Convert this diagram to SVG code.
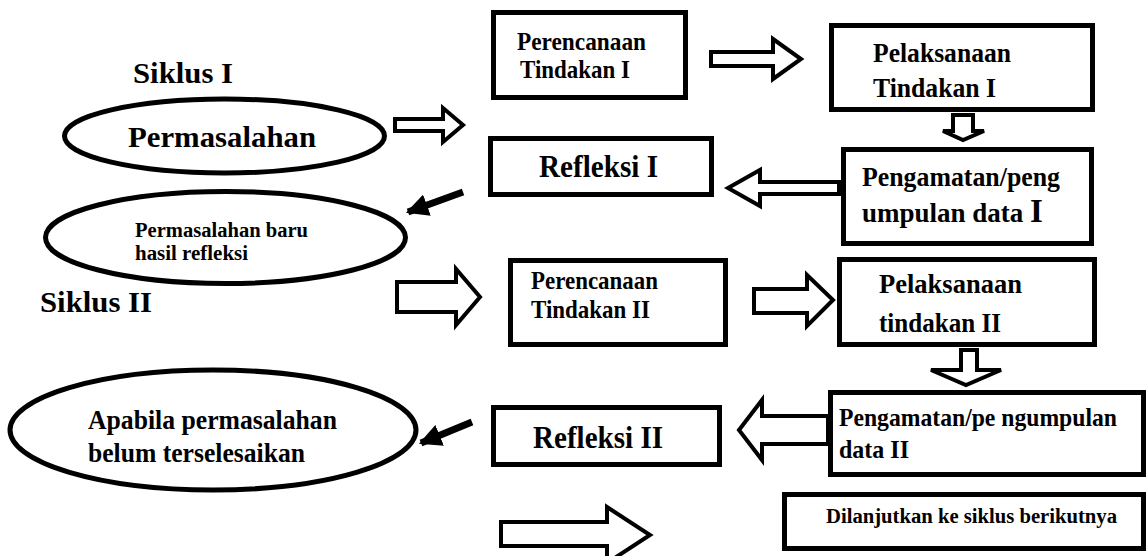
<svg xmlns="http://www.w3.org/2000/svg" width="1146" height="556" viewBox="0 0 1146 556">
<style>
.bg{fill:#fff}
.box{fill:#fff;stroke:#000;stroke-width:5}
.ell{fill:#fff;stroke:#000;stroke-width:5}
.barrow{fill:#fff;stroke:#000;stroke-width:4;stroke-linejoin:miter}
.line{stroke:#000;stroke-width:7;fill:none}
.t{font-family:"Liberation Serif","Times New Roman",serif;font-weight:bold;fill:#000}
</style>
<defs>
<marker id="ah" viewBox="0 0 10 10" refX="9" refY="5" markerWidth="3.2" markerHeight="3.2" orient="auto" markerUnits="strokeWidth">
<path d="M0,0 L10,5 L0,10 Z" fill="#000"/>
</marker>
</defs>
<rect class="bg" x="0" y="0" width="1146" height="556"/>

<text class="t" x="133" y="83" font-size="29" textLength="100" lengthAdjust="spacingAndGlyphs">Siklus I</text>
<text class="t" x="40" y="312" font-size="29" textLength="112" lengthAdjust="spacingAndGlyphs">Siklus II</text>

<g id="permasalahan">
<ellipse class="ell" cx="224.5" cy="136" rx="160" ry="37"/>
<text class="t" x="128" y="147" font-size="29" textLength="188" lengthAdjust="spacingAndGlyphs">Permasalahan</text>
</g>

<g id="perencanaan1">
<rect class="box" x="493.5" y="12.5" width="192" height="85"/>
<text class="t" x="517" y="50" font-size="26" textLength="129" lengthAdjust="spacingAndGlyphs">Perencanaan</text>
<text class="t" x="520" y="78" font-size="26" textLength="110" lengthAdjust="spacingAndGlyphs">Tindakan I</text>
</g>

<g id="pelaksanaan1">
<rect class="box" x="831.5" y="25.5" width="261" height="84"/>
<text class="t" x="873" y="62" font-size="27" textLength="138" lengthAdjust="spacingAndGlyphs">Pelaksanaan</text>
<text class="t" x="873" y="97" font-size="27" textLength="123" lengthAdjust="spacingAndGlyphs">Tindakan I</text>
</g>

<g id="refleksi1">
<rect class="box" x="490.5" y="138.5" width="221" height="56"/>
<text class="t" x="539" y="177" font-size="31" textLength="119" lengthAdjust="spacingAndGlyphs">Refleksi I</text>
</g>

<g id="pengamatan1">
<rect class="box" x="843.5" y="149.5" width="248" height="94"/>
<text class="t" x="862" y="186" font-size="27" textLength="198" lengthAdjust="spacingAndGlyphs">Pengamatan/peng</text>
<text class="t" x="862" y="222" font-size="27">umpulan data <tspan font-size="33">I</tspan></text>
</g>

<g id="permasalahan-baru">
<ellipse class="ell" cx="225.5" cy="237.5" rx="180" ry="46"/>
<text class="t" x="135" y="237" font-size="20" textLength="173" lengthAdjust="spacingAndGlyphs">Permasalahan baru</text>
<text class="t" x="135" y="260" font-size="20" textLength="113" lengthAdjust="spacingAndGlyphs">hasil refleksi</text>
</g>

<g id="perencanaan2">
<rect class="box" x="510.5" y="260.5" width="215" height="84"/>
<text class="t" x="531" y="289" font-size="26" textLength="127" lengthAdjust="spacingAndGlyphs">Perencanaan</text>
<text class="t" x="531" y="318" font-size="26" textLength="119" lengthAdjust="spacingAndGlyphs">Tindakan II</text>
</g>

<g id="pelaksanaan2">
<rect class="box" x="839.5" y="259.5" width="255" height="85"/>
<text class="t" x="879" y="293" font-size="28" textLength="143" lengthAdjust="spacingAndGlyphs">Pelaksanaan</text>
<text class="t" x="879" y="332" font-size="28" textLength="122" lengthAdjust="spacingAndGlyphs">tindakan II</text>
</g>

<g id="apabila">
<ellipse class="ell" cx="213" cy="430" rx="203" ry="60"/>
<text class="t" x="88" y="429" font-size="27" textLength="249" lengthAdjust="spacingAndGlyphs">Apabila permasalahan</text>
<text class="t" x="88" y="462" font-size="27" textLength="217" lengthAdjust="spacingAndGlyphs">belum terselesaikan</text>
</g>

<g id="refleksi2">
<rect class="box" x="493.5" y="407.5" width="226" height="57"/>
<text class="t" x="533" y="448" font-size="32" textLength="130" lengthAdjust="spacingAndGlyphs">Refleksi II</text>
</g>

<g id="pengamatan2">
<rect class="box" x="830.5" y="392.5" width="313" height="82"/>
<text class="t" x="839" y="426" font-size="26" textLength="278" lengthAdjust="spacingAndGlyphs">Pengamatan/pe ngumpulan</text>
<text class="t" x="839" y="458" font-size="26" textLength="70" lengthAdjust="spacingAndGlyphs">data II</text>
</g>

<g id="dilanjutkan">
<rect class="box" x="784.5" y="494.5" width="359" height="54"/>
<text class="t" x="826" y="523" font-size="20" textLength="291" lengthAdjust="spacingAndGlyphs">Dilanjutkan ke siklus berikutnya</text>
</g>

<g id="connectors">
<polygon class="barrow" points="395,119 443,119 443,108 463,125 443,142 443,131 395,131"/>
<polygon class="barrow" points="711,52 773,52 773,39 801,59 773,79 773,66 711,66"/>
<polygon class="barrow" points="953,115 973,115 973,131 984,131 963,140 943,131 953,131"/>
<polygon class="barrow" points="839,182 760,182 760,170 728,188 760,206 760,194 839,194"/>
<line class="line" x1="463" y1="192" x2="408" y2="212" marker-end="url(#ah)"/>
<polygon class="barrow" points="397,282 456,282 456,269 480,297 456,325 456,312 397,312"/>
<polygon class="barrow" points="754,289 807,289 807,275 833,300 807,326 807,313 754,313"/>
<polygon class="barrow" points="961,350 977,350 977,370 1001,370 966,385 931,370 961,370"/>
<polygon class="barrow" points="828,416 762,416 762,400 739,430 762,460 762,444 828,444"/>
<line class="line" x1="472" y1="422" x2="421" y2="443" marker-end="url(#ah)"/>
<polygon class="barrow" points="501,522 607,522 607,507 650,535 607,563 607,546 501,546"/>
</g>
</svg>
